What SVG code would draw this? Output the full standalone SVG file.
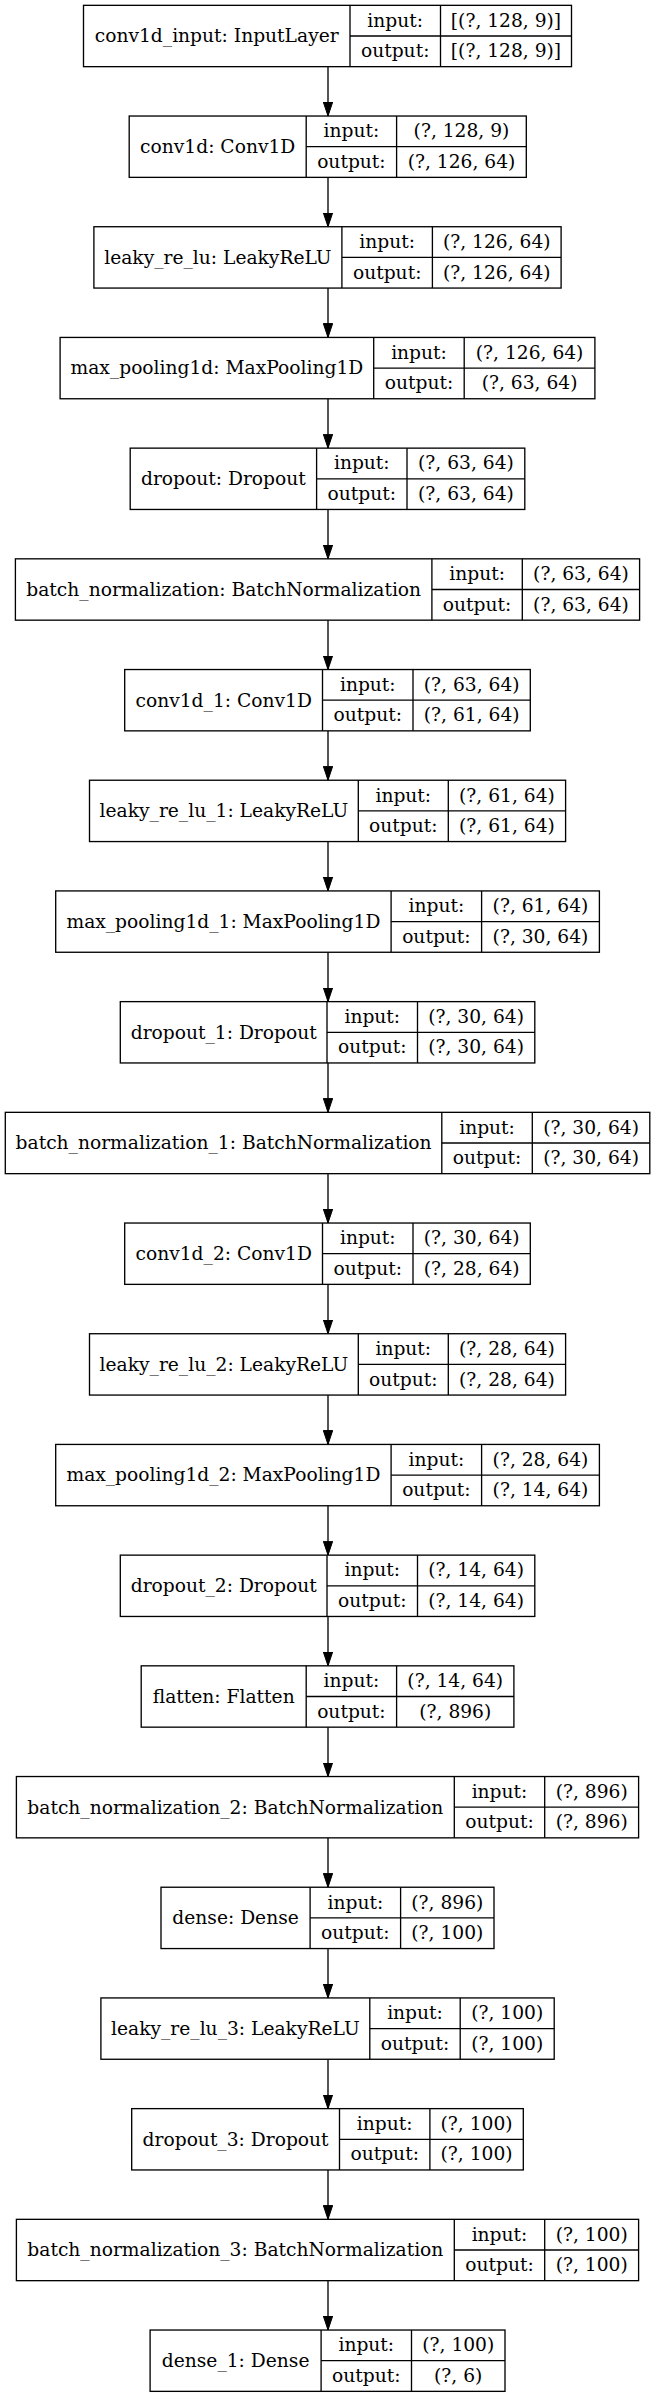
<svg xmlns="http://www.w3.org/2000/svg" width="659" height="2397" viewBox="0 0 659 2397">
<style>
.n rect{fill:#fff;stroke:#000;stroke-width:1.33}
.n line{stroke:#000;stroke-width:1.33}
.n text{font-family:"DejaVu Serif","Liberation Serif",serif;font-size:18.67px;text-anchor:middle;fill:#000}
.e path{fill:none;stroke:#000;stroke-width:1.33;marker-end:url(#ah)}
</style>
<defs>
<marker id="ah" markerUnits="userSpaceOnUse" markerWidth="14" markerHeight="10" viewBox="0 0 14 10" refX="14" refY="5" orient="auto"><path d="M0,0.3 L14,5 L0,9.7 z" fill="#000" stroke="#000" stroke-width="1"/></marker>
</defs>
<rect width="659" height="2397" fill="#fff"/>
<g id="edges" class="e">
<path d="M328,66.66V116.03"/>
<path d="M328,177.36V226.73"/>
<path d="M328,288.06V337.43"/>
<path d="M328,398.76V448.13"/>
<path d="M328,509.46V558.83"/>
<path d="M328,620.16V669.53"/>
<path d="M328,730.86V780.23"/>
<path d="M328,841.56V890.93"/>
<path d="M328,952.26V1001.63"/>
<path d="M328,1062.96V1112.33"/>
<path d="M328,1173.66V1223.03"/>
<path d="M328,1284.36V1333.73"/>
<path d="M328,1395.06V1444.43"/>
<path d="M328,1505.76V1555.13"/>
<path d="M328,1616.46V1665.83"/>
<path d="M328,1727.16V1776.53"/>
<path d="M328,1837.86V1887.23"/>
<path d="M328,1948.56V1997.93"/>
<path d="M328,2059.26V2108.63"/>
<path d="M328,2169.96V2219.33"/>
<path d="M328,2280.66V2330.03"/>
</g>
<g id="conv1d_input" class="n" transform="translate(0,5.33)">
<rect x="83.5" y="0" width="488" height="61.33"/><line x1="350" y1="0" x2="350" y2="61.33"/><line x1="440.5" y1="0" x2="440.5" y2="61.33"/><line x1="350" y1="30.67" x2="571.5" y2="30.67"/>
<text x="216.7" y="37">conv1d_input: InputLayer</text><text x="395.2" y="21.3">input:</text><text x="395.2" y="51.8">output:</text><text x="506" y="21.3">[(?, 128, 9)]</text><text x="506" y="51.8">[(?, 128, 9)]</text>
</g>
<g id="conv1d" class="n" transform="translate(0,116.03)">
<rect x="129.2" y="0" width="397.1" height="61.33"/><line x1="306.2" y1="0" x2="306.2" y2="61.33"/><line x1="396.6" y1="0" x2="396.6" y2="61.33"/><line x1="306.2" y1="30.67" x2="526.3" y2="30.67"/>
<text x="217.7" y="37">conv1d: Conv1D</text><text x="351.4" y="21.3">input:</text><text x="351.4" y="51.8">output:</text><text x="461.5" y="21.3">(?, 128, 9)</text><text x="461.5" y="51.8">(?, 126, 64)</text>
</g>
<g id="leaky_re_lu" class="n" transform="translate(0,226.73)">
<rect x="93.9" y="0" width="467.2" height="61.33"/><line x1="341.9" y1="0" x2="341.9" y2="61.33"/><line x1="432.4" y1="0" x2="432.4" y2="61.33"/><line x1="341.9" y1="30.67" x2="561.1" y2="30.67"/>
<text x="217.9" y="37">leaky_re_lu: LeakyReLU</text><text x="387.2" y="21.3">input:</text><text x="387.2" y="51.8">output:</text><text x="496.8" y="21.3">(?, 126, 64)</text><text x="496.8" y="51.8">(?, 126, 64)</text>
</g>
<g id="max_pooling1d" class="n" transform="translate(0,337.43)">
<rect x="60.1" y="0" width="534.8" height="61.33"/><line x1="373.7" y1="0" x2="373.7" y2="61.33"/><line x1="464.2" y1="0" x2="464.2" y2="61.33"/><line x1="373.7" y1="30.67" x2="594.9" y2="30.67"/>
<text x="216.9" y="37">max_pooling1d: MaxPooling1D</text><text x="419" y="21.3">input:</text><text x="419" y="51.8">output:</text><text x="529.6" y="21.3">(?, 126, 64)</text><text x="529.6" y="51.8">(?, 63, 64)</text>
</g>
<g id="dropout" class="n" transform="translate(0,448.13)">
<rect x="130.2" y="0" width="394.6" height="61.33"/><line x1="316.6" y1="0" x2="316.6" y2="61.33"/><line x1="407" y1="0" x2="407" y2="61.33"/><line x1="316.6" y1="30.67" x2="524.8" y2="30.67"/>
<text x="223.4" y="37">dropout: Dropout</text><text x="361.8" y="21.3">input:</text><text x="361.8" y="51.8">output:</text><text x="465.9" y="21.3">(?, 63, 64)</text><text x="465.9" y="51.8">(?, 63, 64)</text>
</g>
<g id="batch_normalization" class="n" transform="translate(0,558.83)">
<rect x="15.4" y="0" width="624.2" height="61.33"/><line x1="431.9" y1="0" x2="431.9" y2="61.33"/><line x1="522.3" y1="0" x2="522.3" y2="61.33"/><line x1="431.9" y1="30.67" x2="639.6" y2="30.67"/>
<text x="223.7" y="37">batch_normalization: BatchNormalization</text><text x="477.1" y="21.3">input:</text><text x="477.1" y="51.8">output:</text><text x="581" y="21.3">(?, 63, 64)</text><text x="581" y="51.8">(?, 63, 64)</text>
</g>
<g id="conv1d_1" class="n" transform="translate(0,669.53)">
<rect x="124.7" y="0" width="405.6" height="61.33"/><line x1="322.5" y1="0" x2="322.5" y2="61.33"/><line x1="413" y1="0" x2="413" y2="61.33"/><line x1="322.5" y1="30.67" x2="530.3" y2="30.67"/>
<text x="223.7" y="37">conv1d_1: Conv1D</text><text x="367.8" y="21.3">input:</text><text x="367.8" y="51.8">output:</text><text x="471.7" y="21.3">(?, 63, 64)</text><text x="471.7" y="51.8">(?, 61, 64)</text>
</g>
<g id="leaky_re_lu_1" class="n" transform="translate(0,780.23)">
<rect x="89.5" y="0" width="476.1" height="61.33"/><line x1="358.3" y1="0" x2="358.3" y2="61.33"/><line x1="448.3" y1="0" x2="448.3" y2="61.33"/><line x1="358.3" y1="30.67" x2="565.6" y2="30.67"/>
<text x="223.9" y="37">leaky_re_lu_1: LeakyReLU</text><text x="403.3" y="21.3">input:</text><text x="403.3" y="51.8">output:</text><text x="506.9" y="21.3">(?, 61, 64)</text><text x="506.9" y="51.8">(?, 61, 64)</text>
</g>
<g id="max_pooling1d_1" class="n" transform="translate(0,890.93)">
<rect x="55.7" y="0" width="543.7" height="61.33"/><line x1="391.1" y1="0" x2="391.1" y2="61.33"/><line x1="481.6" y1="0" x2="481.6" y2="61.33"/><line x1="391.1" y1="30.67" x2="599.4" y2="30.67"/>
<text x="223.4" y="37">max_pooling1d_1: MaxPooling1D</text><text x="436.4" y="21.3">input:</text><text x="436.4" y="51.8">output:</text><text x="540.5" y="21.3">(?, 61, 64)</text><text x="540.5" y="51.8">(?, 30, 64)</text>
</g>
<g id="dropout_1" class="n" transform="translate(0,1001.63)">
<rect x="120.3" y="0" width="414.5" height="61.33"/><line x1="327" y1="0" x2="327" y2="61.33"/><line x1="417.5" y1="0" x2="417.5" y2="61.33"/><line x1="327" y1="30.67" x2="534.8" y2="30.67"/>
<text x="223.7" y="37">dropout_1: Dropout</text><text x="372.3" y="21.3">input:</text><text x="372.3" y="51.8">output:</text><text x="476.1" y="21.3">(?, 30, 64)</text><text x="476.1" y="51.8">(?, 30, 64)</text>
</g>
<g id="batch_normalization_1" class="n" transform="translate(0,1112.33)">
<rect x="5.3" y="0" width="644.5" height="61.33"/><line x1="441.8" y1="0" x2="441.8" y2="61.33"/><line x1="532.3" y1="0" x2="532.3" y2="61.33"/><line x1="441.8" y1="30.67" x2="649.8" y2="30.67"/>
<text x="223.6" y="37">batch_normalization_1: BatchNormalization</text><text x="487.05" y="21.3">input:</text><text x="487.05" y="51.8">output:</text><text x="591.05" y="21.3">(?, 30, 64)</text><text x="591.05" y="51.8">(?, 30, 64)</text>
</g>
<g id="conv1d_2" class="n" transform="translate(0,1223.03)">
<rect x="124.7" y="0" width="405.6" height="61.33"/><line x1="322.5" y1="0" x2="322.5" y2="61.33"/><line x1="413" y1="0" x2="413" y2="61.33"/><line x1="322.5" y1="30.67" x2="530.3" y2="30.67"/>
<text x="223.7" y="37">conv1d_2: Conv1D</text><text x="367.8" y="21.3">input:</text><text x="367.8" y="51.8">output:</text><text x="471.7" y="21.3">(?, 30, 64)</text><text x="471.7" y="51.8">(?, 28, 64)</text>
</g>
<g id="leaky_re_lu_2" class="n" transform="translate(0,1333.73)">
<rect x="89.5" y="0" width="476.1" height="61.33"/><line x1="358.3" y1="0" x2="358.3" y2="61.33"/><line x1="448.3" y1="0" x2="448.3" y2="61.33"/><line x1="358.3" y1="30.67" x2="565.6" y2="30.67"/>
<text x="223.9" y="37">leaky_re_lu_2: LeakyReLU</text><text x="403.3" y="21.3">input:</text><text x="403.3" y="51.8">output:</text><text x="506.9" y="21.3">(?, 28, 64)</text><text x="506.9" y="51.8">(?, 28, 64)</text>
</g>
<g id="max_pooling1d_2" class="n" transform="translate(0,1444.43)">
<rect x="55.7" y="0" width="543.7" height="61.33"/><line x1="391.1" y1="0" x2="391.1" y2="61.33"/><line x1="481.6" y1="0" x2="481.6" y2="61.33"/><line x1="391.1" y1="30.67" x2="599.4" y2="30.67"/>
<text x="223.4" y="37">max_pooling1d_2: MaxPooling1D</text><text x="436.4" y="21.3">input:</text><text x="436.4" y="51.8">output:</text><text x="540.5" y="21.3">(?, 28, 64)</text><text x="540.5" y="51.8">(?, 14, 64)</text>
</g>
<g id="dropout_2" class="n" transform="translate(0,1555.13)">
<rect x="120.3" y="0" width="414.5" height="61.33"/><line x1="327" y1="0" x2="327" y2="61.33"/><line x1="417.5" y1="0" x2="417.5" y2="61.33"/><line x1="327" y1="30.67" x2="534.8" y2="30.67"/>
<text x="223.7" y="37">dropout_2: Dropout</text><text x="372.3" y="21.3">input:</text><text x="372.3" y="51.8">output:</text><text x="476.1" y="21.3">(?, 14, 64)</text><text x="476.1" y="51.8">(?, 14, 64)</text>
</g>
<g id="flatten" class="n" transform="translate(0,1665.83)">
<rect x="141.2" y="0" width="372.7" height="61.33"/><line x1="306.2" y1="0" x2="306.2" y2="61.33"/><line x1="396.6" y1="0" x2="396.6" y2="61.33"/><line x1="306.2" y1="30.67" x2="513.9" y2="30.67"/>
<text x="223.7" y="37">flatten: Flatten</text><text x="351.4" y="21.3">input:</text><text x="351.4" y="51.8">output:</text><text x="455.25" y="21.3">(?, 14, 64)</text><text x="455.25" y="51.8">(?, 896)</text>
</g>
<g id="batch_normalization_2" class="n" transform="translate(0,1776.53)">
<rect x="16.4" y="0" width="622.2" height="61.33"/><line x1="454.3" y1="0" x2="454.3" y2="61.33"/><line x1="544.7" y1="0" x2="544.7" y2="61.33"/><line x1="454.3" y1="30.67" x2="638.6" y2="30.67"/>
<text x="235.35" y="37">batch_normalization_2: BatchNormalization</text><text x="499.5" y="21.3">input:</text><text x="499.5" y="51.8">output:</text><text x="591.65" y="21.3">(?, 896)</text><text x="591.65" y="51.8">(?, 896)</text>
</g>
<g id="dense" class="n" transform="translate(0,1887.23)">
<rect x="161" y="0" width="333" height="61.33"/><line x1="310.1" y1="0" x2="310.1" y2="61.33"/><line x1="400.6" y1="0" x2="400.6" y2="61.33"/><line x1="310.1" y1="30.67" x2="494" y2="30.67"/>
<text x="235.55" y="37">dense: Dense</text><text x="355.35" y="21.3">input:</text><text x="355.35" y="51.8">output:</text><text x="447.3" y="21.3">(?, 896)</text><text x="447.3" y="51.8">(?, 100)</text>
</g>
<g id="leaky_re_lu_3" class="n" transform="translate(0,1997.93)">
<rect x="100.9" y="0" width="453.3" height="61.33"/><line x1="369.8" y1="0" x2="369.8" y2="61.33"/><line x1="460.2" y1="0" x2="460.2" y2="61.33"/><line x1="369.8" y1="30.67" x2="554.2" y2="30.67"/>
<text x="235.35" y="37">leaky_re_lu_3: LeakyReLU</text><text x="415" y="21.3">input:</text><text x="415" y="51.8">output:</text><text x="507.2" y="21.3">(?, 100)</text><text x="507.2" y="51.8">(?, 100)</text>
</g>
<g id="dropout_3" class="n" transform="translate(0,2108.63)">
<rect x="131.7" y="0" width="391.6" height="61.33"/><line x1="339.5" y1="0" x2="339.5" y2="61.33"/><line x1="429.9" y1="0" x2="429.9" y2="61.33"/><line x1="339.5" y1="30.67" x2="523.3" y2="30.67"/>
<text x="235.6" y="37">dropout_3: Dropout</text><text x="384.7" y="21.3">input:</text><text x="384.7" y="51.8">output:</text><text x="476.6" y="21.3">(?, 100)</text><text x="476.6" y="51.8">(?, 100)</text>
</g>
<g id="batch_normalization_3" class="n" transform="translate(0,2219.33)">
<rect x="16.4" y="0" width="622.2" height="61.33"/><line x1="454.3" y1="0" x2="454.3" y2="61.33"/><line x1="544.7" y1="0" x2="544.7" y2="61.33"/><line x1="454.3" y1="30.67" x2="638.6" y2="30.67"/>
<text x="235.35" y="37">batch_normalization_3: BatchNormalization</text><text x="499.5" y="21.3">input:</text><text x="499.5" y="51.8">output:</text><text x="591.65" y="21.3">(?, 100)</text><text x="591.65" y="51.8">(?, 100)</text>
</g>
<g id="dense_1" class="n" transform="translate(0,2330.03)">
<rect x="150.1" y="0" width="354.9" height="61.33"/><line x1="321.1" y1="0" x2="321.1" y2="61.33"/><line x1="411.5" y1="0" x2="411.5" y2="61.33"/><line x1="321.1" y1="30.67" x2="505" y2="30.67"/>
<text x="235.6" y="37">dense_1: Dense</text><text x="366.3" y="21.3">input:</text><text x="366.3" y="51.8">output:</text><text x="458.25" y="21.3">(?, 100)</text><text x="458.25" y="51.8">(?, 6)</text>
</g>
</svg>
